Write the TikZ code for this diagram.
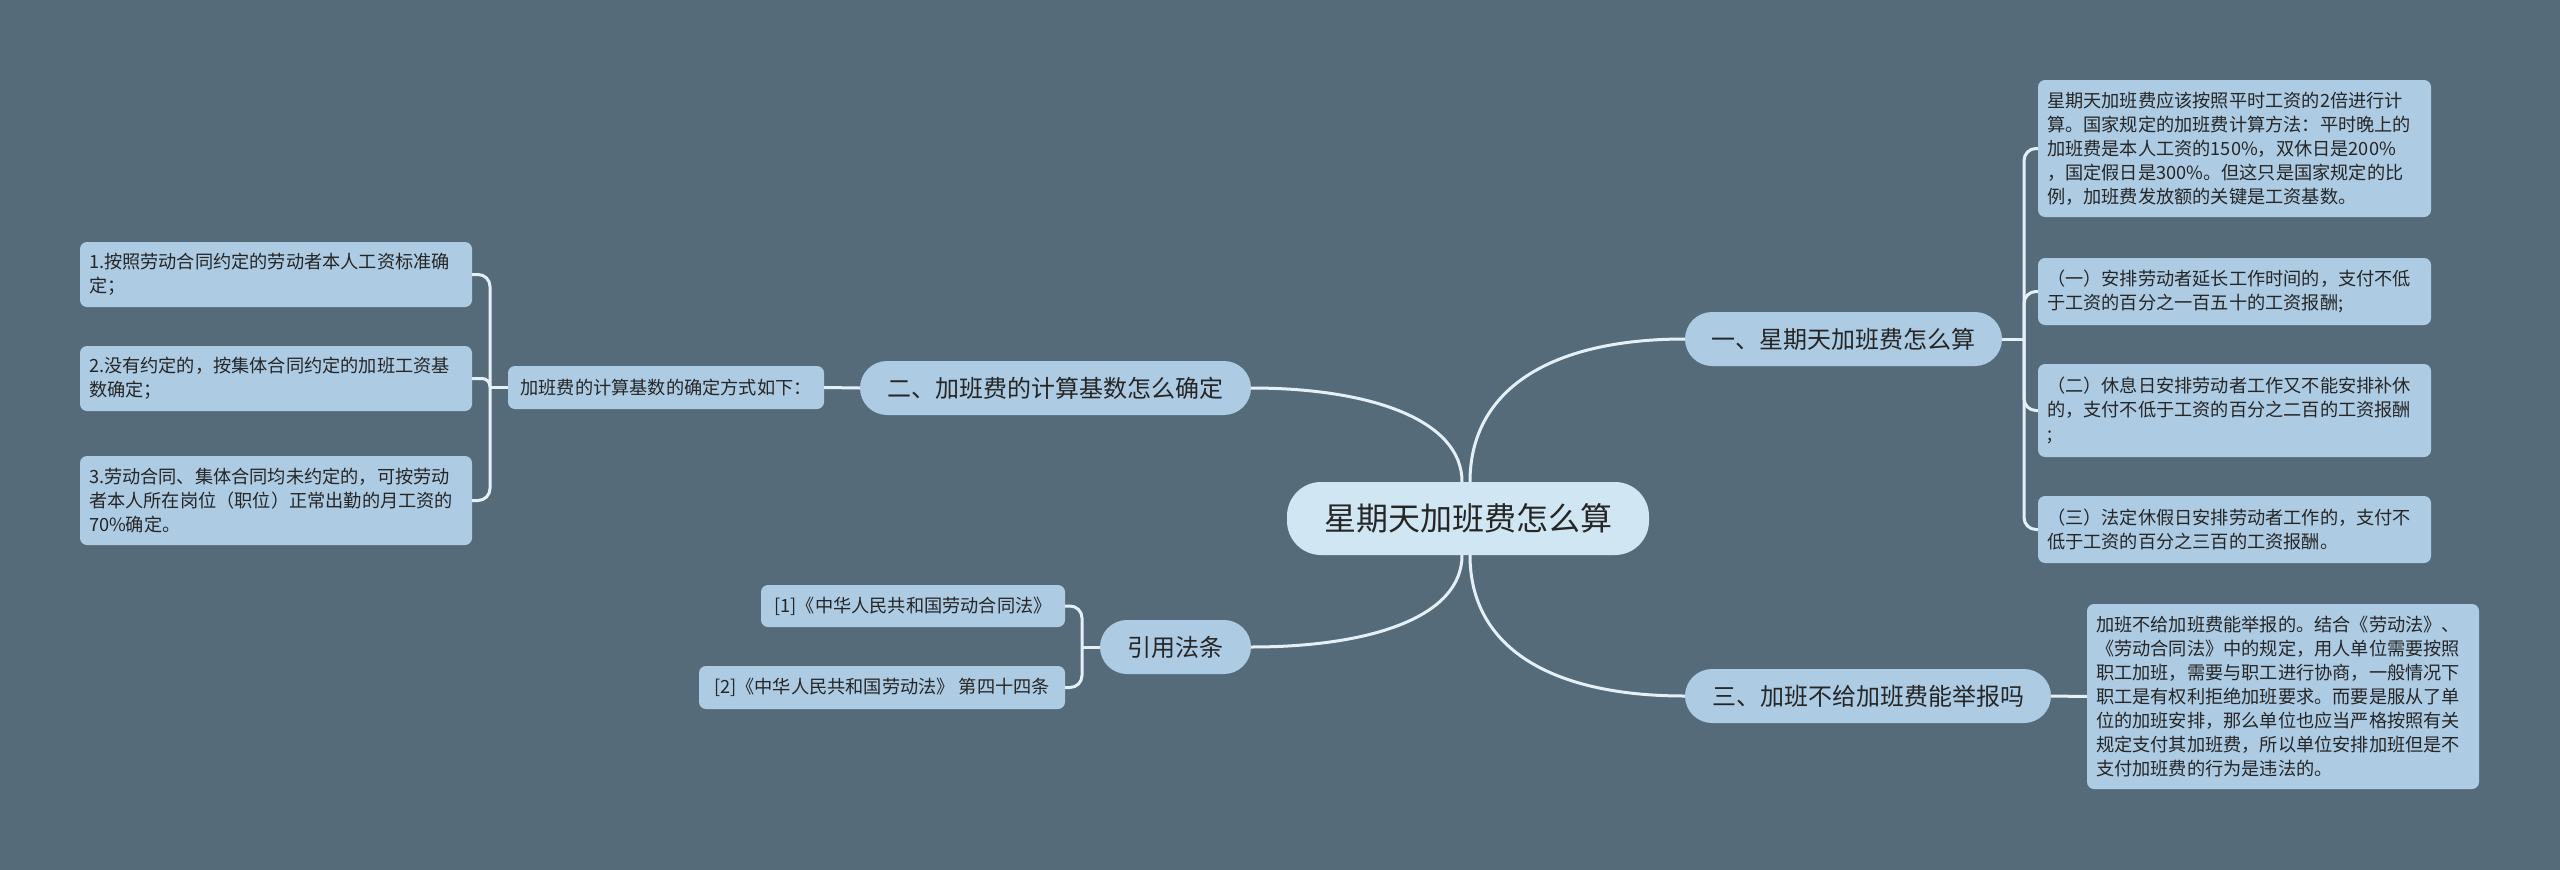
\documentclass[tikz,border=0pt]{standalone}
\usepackage{fontspec}
\setmainfont{Noto Sans CJK SC}
\definecolor{bgc}{HTML}{566B7A}
\definecolor{leafc}{HTML}{ADCBE3}
\definecolor{rootc}{HTML}{D0E6F2}
\definecolor{linec}{HTML}{E4F0F7}
\definecolor{textc}{HTML}{262626}
\begin{document}
\begin{tikzpicture}[x=1pt,y=-1pt,
  conn/.style={draw=linec, line width=3pt},
  leafbox/.style={fill=leafc, rounded corners=7pt, inner xsep=9pt, inner ysep=0pt, align=left, text=textc, font=\fontsize{18.2}{24}\selectfont},
  smallbox/.style={fill=leafc, rounded corners=7pt, inner sep=0pt, align=center, text=textc, font=\fontsize{18.2}{24}\selectfont},
  branch/.style={fill=leafc, rounded corners=27pt, inner sep=0pt, text=textc, font=\fontsize{24}{28}\selectfont},
  rootbox/.style={fill=rootc, rounded corners=34pt, inner sep=0pt, text=textc, font=\fontsize{32}{36}\selectfont}]
\fill[bgc] (0,0) rectangle (2560,870);
\useasboundingbox (0,0) rectangle (2560,870);

% root and branches
\node[rootbox, minimum width=362pt, minimum height=73pt] (c) at (1468,518.5) {星期天加班费怎么算};
\node[branch, minimum width=317pt, minimum height=54pt] (b1) at (1843.5,339) {一、星期天加班费怎么算};
\node[branch, minimum width=366pt, minimum height=54pt] (b3) at (1868,696) {三、加班不给加班费能举报吗};
\node[branch, minimum width=391pt, minimum height=54pt] (b2) at (1055.5,388) {二、加班费的计算基数怎么确定};
\node[branch, minimum width=151pt, minimum height=54pt] (b4) at (1175.5,647) {引用法条};

% right leaves
\node[leafbox, text width=375pt, minimum height=137pt] (r1) at (2234.5,148.5) {星期天加班费应该按照平时工资的2倍进行计\\算。国家规定的加班费计算方法：平时晚上的\\加班费是本人工资的150\%，双休日是200\%\\，国定假日是300\%。但这只是国家规定的比\\例，加班费发放额的关键是工资基数。};
\node[leafbox, text width=375pt, minimum height=67pt] (r2) at (2234.5,291.5) {（一）安排劳动者延长工作时间的，支付不低\\于工资的百分之一百五十的工资报酬;};
\node[leafbox, text width=375pt, minimum height=93pt] (r3) at (2234.5,410.5) {（二）休息日安排劳动者工作又不能安排补休\\的，支付不低于工资的百分之二百的工资报酬\\;};
\node[leafbox, text width=375pt, minimum height=67pt] (r4) at (2234.5,529.5) {（三）法定休假日安排劳动者工作的，支付不\\低于工资的百分之三百的工资报酬。};
\node[leafbox, text width=374pt, minimum height=185pt] (r5) at (2283,696.5) {加班不给加班费能举报的。结合《劳动法》、\\《劳动合同法》中的规定，用人单位需要按照\\职工加班，需要与职工进行协商，一般情况下\\职工是有权利拒绝加班要求。而要是服从了单\\位的加班安排，那么单位也应当严格按照有关\\规定支付其加班费，所以单位安排加班但是不\\支付加班费的行为是违法的。};

% left leaves
\node[smallbox, minimum width=316pt, minimum height=43pt] (mid) at (666,387.5) {加班费的计算基数的确定方式如下：};
\node[leafbox, text width=374pt, minimum height=65pt] (l1) at (276,274.5) {1.按照劳动合同约定的劳动者本人工资标准确\\定；};
\node[leafbox, text width=374pt, minimum height=65pt] (l2) at (276,378.5) {2.没有约定的，按集体合同约定的加班工资基\\数确定；};
\node[leafbox, text width=374pt, minimum height=89pt] (l3) at (276,500.5) {3.劳动合同、集体合同均未约定的，可按劳动\\者本人所在岗位（职位）正常出勤的月工资的\\70\%确定。};

% citations
\node[smallbox, minimum width=304pt, minimum height=42pt] (k1) at (913,606) {[1]《中华人民共和国劳动合同法》};
\node[smallbox, minimum width=366pt, minimum height=43pt] (k2) at (882,687.5) {[2]《中华人民共和国劳动法》 第四十四条};

% junction points
\coordinate (jr) at (2024,339);
\coordinate (jl) at (490,387.5);
\coordinate (jk) at (1082,647);

% root connectors
\draw[conn] ([xshift=2pt]c.north) .. controls +(0,-92) and +(-135,0) .. (b1.west);
\draw[conn] ([xshift=-6pt]c.north) .. controls +(0,-62) and +(119,0) .. (b2.east);
\draw[conn] ([xshift=-6pt]c.south) .. controls +(0,62) and +(119,0) .. (b4.east);
\draw[conn] ([xshift=2pt]c.south) .. controls +(0,92) and +(-135,0) .. (b3.west);

% branch one
\draw[conn] (b1.east) -- (jr);
\draw[conn, rounded corners=12pt] (jr) |- (r1.west);
\draw[conn, rounded corners=12pt] (jr) |- (r2.west);
\draw[conn, rounded corners=12pt] (jr) |- (r3.west);
\draw[conn, rounded corners=12pt] (jr) |- (r4.west);

% branch three
\draw[conn] (b3.east) -- (r5.west);

% branch two
\draw[conn] (b2.west) -- (mid.east);
\draw[conn] (mid.west) -- (jl);
\draw[conn, rounded corners=12pt] (jl) |- (l1.east);
\draw[conn, rounded corners=8pt] (jl) |- (l2.east);
\draw[conn, rounded corners=12pt] (jl) |- (l3.east);

% citations
\draw[conn] (b4.west) -- (jk);
\draw[conn, rounded corners=12pt] (jk) |- (k1.east);
\draw[conn, rounded corners=12pt] (jk) |- (k2.east);
\end{tikzpicture}
\end{document}
